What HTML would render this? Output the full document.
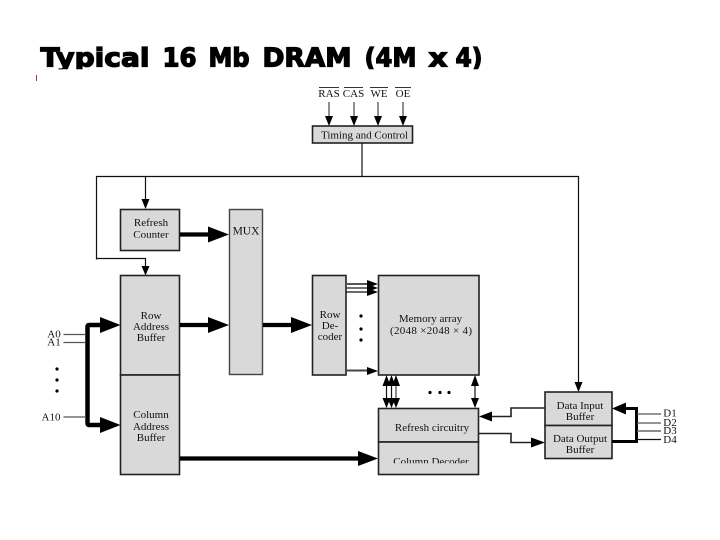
<!DOCTYPE html>
<html><head><meta charset="utf-8"><style>
html,body{margin:0;padding:0;background:#fff}
svg{display:block;filter:blur(.3px)}
.s{font-family:"Liberation Serif",serif;font-size:11px;fill:#111;text-anchor:middle}
.b{fill:#d9d9d9;stroke:#222;stroke-width:1.6}
.l{stroke:#111;stroke-width:1.2;fill:none}
.g{stroke:#555;stroke-width:1.3;fill:none}
.t{stroke:#000;stroke-width:4.200;fill:none}
.a{fill:#000}
.h{font-family:"DejaVu Sans",sans-serif;font-weight:bold;font-size:26px;fill:#000;stroke:#000;stroke-width:1.3px}
</style></head><body>
<svg width="720" height="540" viewBox="0 0 720 540" xmlns="http://www.w3.org/2000/svg">
<defs><clipPath id="c"><rect x="0" y="30" width="720" height="39.300"/></clipPath></defs>
<rect width="720" height="540" fill="#fff"/>
<g clip-path="url(#c)">
<text class="h" x="40.500" y="66.500" textLength="109" lengthAdjust="spacingAndGlyphs">Typical</text>
<text class="h" x="162.500" y="66.500" textLength="34" lengthAdjust="spacingAndGlyphs">16</text>
<text class="h" x="208.500" y="66.500" textLength="41" lengthAdjust="spacingAndGlyphs">Mb</text>
<text class="h" x="262.500" y="66.500" textLength="89" lengthAdjust="spacingAndGlyphs">DRAM</text>
<text class="h" x="364.500" y="66.500" textLength="52" lengthAdjust="spacingAndGlyphs">(4M</text>
<text class="h" x="428.500" y="66.500" textLength="19" lengthAdjust="spacingAndGlyphs">x</text>
<text class="h" x="455.500" y="66.500" textLength="27" lengthAdjust="spacingAndGlyphs">4)</text>
</g>
<rect x="36" y="75" width="1" height="6" fill="#a33"/>

<!-- control signals -->
<g class="s">
<text x="329" y="97">RAS</text><text x="353.500" y="97">CAS</text><text x="379" y="97">WE</text><text x="403" y="97">OE</text>
</g>
<path d="M319 87.500h20M344 87.500h19M370 87.500h18M395 87.500h16" stroke="#333" stroke-width="1"/>
<path d="M329 102V118M354 102V118M378 102V118M403 102V118" class="g"/>
<path class="a" d="M325 116h8l-4 10zM350 116h8l-4 10zM374 116h8l-4 10zM399 116h8l-4 10z"/>

<rect class="b" x="312.500" y="126" width="100" height="17"/>
<text class="s" x="364.500" y="138.500">Timing and Control</text>

<!-- control wiring -->
<path class="l" d="M362 143V176.500M96.500 265.500V176.500H578.500V385M145.500 176.500V200M96.500 258.500H145.500V267"/>
<path class="a" d="M141.500 199h8l-4 10zM141.500 266h8l-4 9.500zM574.500 382h8l-4 10z"/>
<rect x="94" y="259.500" width="5" height="8" fill="#fff"/>

<!-- boxes -->
<rect class="b" x="120.500" y="209.500" width="59" height="41"/>
<text class="s" x="151" y="226">Refresh</text><text class="s" x="151" y="238">Counter</text>
<rect x="122" y="237.800" width="56" height="11.500" fill="#d9d9d9"/>

<rect x="229.500" y="209.500" width="33" height="165" fill="#d9d9d9" stroke="#444" stroke-width="1.400"/>
<text class="s" style="font-size:11.500px" x="246" y="234.500">MUX</text>

<rect class="b" x="120.500" y="275.500" width="59" height="99.500"/>
<rect class="b" x="120.500" y="375" width="59" height="99.500"/>
<text class="s" x="151" y="319">Row</text><text class="s" x="151" y="330">Address</text><text class="s" x="151" y="341">Buffer</text>
<text class="s" x="151" y="418">Column</text><text class="s" x="151" y="430">Address</text><text class="s" x="151" y="441">Buffer</text>

<rect class="b" x="312.500" y="275.500" width="33.500" height="99.500"/>
<text class="s" x="330" y="318">Row</text><text class="s" x="330" y="329">De-</text><text class="s" x="330" y="340">coder</text>

<rect class="b" x="378.500" y="275.500" width="100.500" height="99.500"/>
<text class="s" x="430.500" y="322">Memory array</text>
<text class="s" x="431" y="334" textLength="82" lengthAdjust="spacing" style="text-anchor:start" dx="-41">(2048 ×2048 × 4)</text>

<rect class="b" x="378.500" y="408.500" width="100" height="33.500"/>
<rect class="b" x="378.500" y="442" width="100" height="32.500"/>
<text class="s" x="432" y="431">Refresh circuitry</text>
<text class="s" x="431" y="465">Column Decoder</text>
<rect x="380" y="463.300" width="97" height="10.200" fill="#d9d9d9"/>

<rect class="b" x="545" y="392" width="67" height="33.500"/>
<rect class="b" x="545" y="425.500" width="67" height="33"/>
<text class="s" x="580" y="409">Data Input</text><text class="s" x="580" y="420">Buffer</text>
<text class="s" x="580" y="442">Data Output</text><text class="s" x="580" y="453">Buffer</text>

<!-- thick buses -->
<path class="t" d="M180 234.500H212M180 325H212M263 325H295"/>
<path class="a" d="M208 226.500l21 8-21 8zM208 317l21 8-21 8zM291 317l21 8-21 8z"/>
<path class="t" d="M180 458.500H362"/>
<path class="a" d="M358 451l20 7.500-20 7.500z"/>
<path d="M105 325H89Q87.500 325 87.500 327V423Q87.500 425 89 425H105" stroke="#000" stroke-width="4.500" fill="none"/>
<path class="a" d="M100 317l20.500 8-20.500 8zM100 417l20.500 8-20.500 8z"/>

<!-- address inputs -->
<g class="s">
<text x="54" y="337.500">A0</text><text x="54" y="345.500">A1</text><text x="51" y="420.500">A10</text>
</g>
<path class="g" d="M63.500 334.500H86M63.500 342.500H86M63.500 417H86"/>
<g fill="#000"><circle cx="57" cy="369" r="1.600"/><circle cx="57" cy="380" r="1.600"/><circle cx="57" cy="391" r="1.600"/></g>

<!-- decoder to memory -->
<path d="M346 284H370" stroke="#555" stroke-width="2"/>
<path d="M346 288H370" stroke="#444" stroke-width="1.500"/>
<path d="M346 292H370" stroke="#111" stroke-width="1.200"/>
<path d="M346 370.500H370" stroke="#444" stroke-width="2"/>
<path class="a" d="M367 280l11 4-11 4zM367 284l11 4-11 4zM367 288l11 4-11 4zM367 367l11 4-11 4z"/>
<g fill="#000"><circle cx="361" cy="316" r="1.600"/><circle cx="361" cy="329" r="1.600"/><circle cx="361" cy="340" r="1.600"/></g>

<!-- memory to refresh -->
<path class="l" d="M386.500 385V398M391.500 385V398M475 385V398"/>
<path d="M396 385V398" stroke="#666" stroke-width="1.500"/>
<path class="a" d="M382.500 386l4-11 4 11zM387.500 386l4-11 4 11zM392 386l4-11 4 11zM382.500 398l4 10 4-10zM387.500 398l4 10 4-10zM392 398l4 10 4-10zM471 386l4-11 4 11zM471 398l4 10 4-10z"/>
<g fill="#000"><circle cx="430" cy="392.500" r="1.600"/><circle cx="440" cy="392.500" r="1.600"/><circle cx="449" cy="392.500" r="1.600"/></g>

<!-- refresh / data buffers -->
<path d="M490 416.500H511V408H545" stroke="#222" stroke-width="1.600" fill="none"/>
<path class="a" d="M479 416.500l13-5v10z"/>
<path d="M479 433.500H511V442.500H534" stroke="#222" stroke-width="1.600" fill="none"/>
<path class="a" d="M531 437.500l14 5-14 5z"/>

<!-- data pins -->
<path d="M622 408.500H636.500V441.500H612" stroke="#000" stroke-width="3" fill="none"/>
<path class="a" d="M612 408.500l14-6v12z"/>
<path class="g" d="M637 414H661M637 423H661"/>
<path d="M637 431H661" stroke="#666" stroke-width="1.600"/>
<path class="l" d="M637 439.500H661"/>
<g class="s">
<text x="670" y="416.500">D1</text><text x="670" y="426">D2</text><text x="670" y="434">D3</text><text x="670" y="443">D4</text>
</g>
</svg>
</body></html>
